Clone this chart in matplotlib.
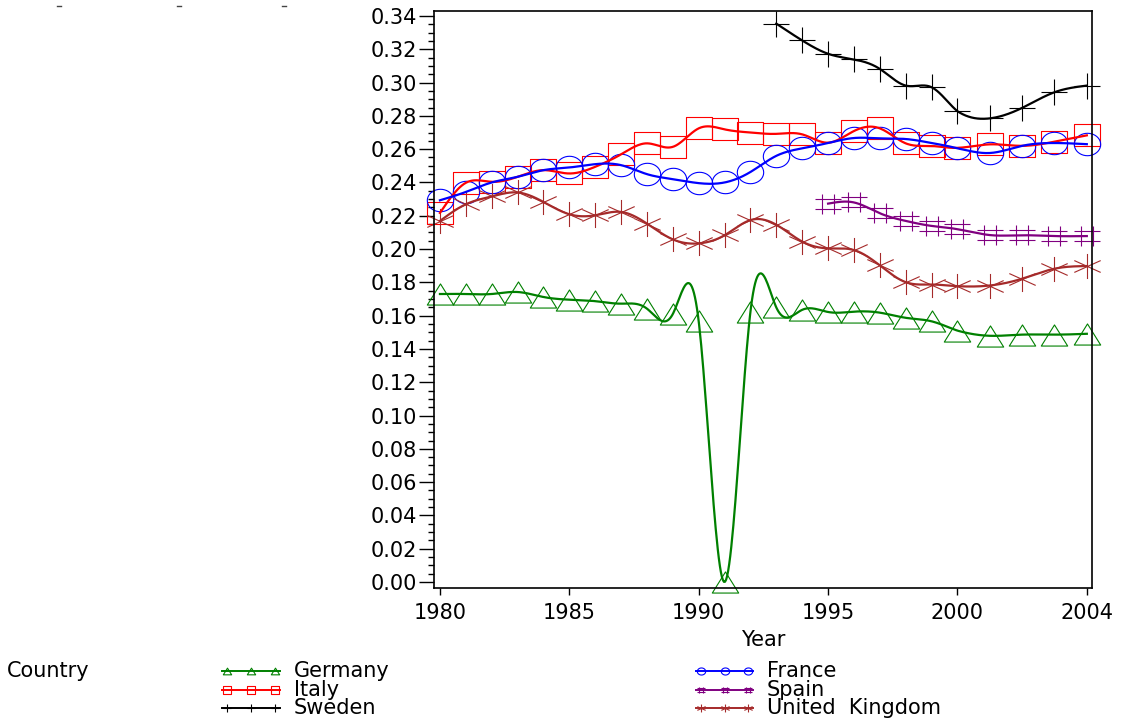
import matplotlib
matplotlib.use('Agg')
import matplotlib.pyplot as plt
from matplotlib.path import Path
from matplotlib.lines import Line2D
from matplotlib.ticker import FixedLocator, MultipleLocator
import numpy as np

plt.rcParams['font.family'] = ['DejaVu Sans']

# values
years_all = list(range(1980, 2005))
germany = [0.173, 0.173, 0.173, 0.1742, 0.1712, 0.1696, 0.1687, 0.1672, 0.1642,
           0.161, 0.1566, 0.000, 0.1624, 0.1649, 0.1635, 0.1622, 0.1624, 0.1618,
           0.1587, 0.1566, 0.151, 0.1479, 0.1486, 0.1486, 0.1491]
france = [0.2293, 0.2343, 0.240, 0.2434, 0.2474, 0.249, 0.251, 0.2504, 0.245,
          0.242, 0.2396, 0.240, 0.2463, 0.256, 0.2605, 0.2637, 0.2667, 0.2665,
          0.2661, 0.2637, 0.2605, 0.2577, 0.262, 0.2637, 0.263]
italy = [0.2217, 0.2398, 0.2404, 0.2434, 0.2474, 0.2454, 0.2494, 0.2569, 0.2635,
         0.2614, 0.2725, 0.2719, 0.2700, 0.2692, 0.2689, 0.2639, 0.2709, 0.2725,
         0.2635, 0.2619, 0.2608, 0.2629, 0.262, 0.2645, 0.2683]
uk = [0.2169, 0.2269, 0.2316, 0.234, 0.2283, 0.2209, 0.2203, 0.2223, 0.2153,
      0.2058, 0.2034, 0.2083, 0.2174, 0.2146, 0.2045, 0.2004, 0.1994, 0.1902,
      0.1801, 0.1787, 0.1777, 0.1781, 0.1822, 0.1882, 0.1898]
years_sweden = list(range(1993, 2005))
sweden = [0.3354, 0.3253, 0.3173, 0.3139, 0.3082, 0.2982, 0.2972, 0.2828,
          0.2785, 0.2848, 0.2942, 0.2982]
years_spain = list(range(1995, 2005))
spain = [0.2273, 0.228, 0.2215, 0.2169, 0.2139, 0.2119, 0.2084, 0.2083,
         0.2078, 0.2078]

x_ticks = [1980, 1985, 1990, 1995, 2000, 2004]
y_ticks = [round(0.02 * i, 2) for i in range(18)]


# SAS-style axis: major ticks evenly spaced even though 2000->2004 is 4 years
def fwd(x):
    x = np.asarray(x, float)
    return np.where(x <= 2000, (x - 1980) / 5.0, 4 + (x - 2000) / 4.0)


def inv(u):
    u = np.asarray(u, float)
    return np.where(u <= 4, 1980 + 5.0 * u, 2000 + 4.0 * (u - 4))


def spline(x, y, n=600):
    # natural cubic spline through the points (interpol=spline look)
    x = np.asarray(x, float)
    y = np.asarray(y, float)
    k = len(x)
    h = np.diff(x)
    A = np.zeros((k, k))
    b = np.zeros(k)
    A[0, 0] = A[-1, -1] = 1
    for i in range(1, k - 1):
        A[i, i - 1] = h[i - 1]
        A[i, i] = 2 * (h[i - 1] + h[i])
        A[i, i + 1] = h[i]
        b[i] = 3 * ((y[i + 1] - y[i]) / h[i] - (y[i] - y[i - 1]) / h[i - 1])
    c = np.linalg.solve(A, b)
    bb = (y[1:] - y[:-1]) / h - h * (2 * c[:-1] + c[1:]) / 3
    d = (c[1:] - c[:-1]) / (3 * h)
    xs = np.linspace(x[0], x[-1], n)
    idx = np.clip(np.searchsorted(x, xs, side='right') - 1, 0, k - 2)
    dx = xs - x[idx]
    ys = y[idx] + bb[idx] * dx + c[idx] * dx ** 2 + d[idx] * dx ** 3
    return xs, ys


def seg_path(segs):
    verts, codes = [], []
    for (a, b2) in segs:
        verts += [a, b2]
        codes += [Path.MOVETO, Path.LINETO]
    return Path(verts, codes)


t = np.linspace(0, 2 * np.pi, 41)
m_circle = Path(np.column_stack([np.cos(t), 0.85 * np.sin(t)]), closed=True)
m_square = Path([(-1, -0.85), (1, -0.85), (1, 0.85), (-1, 0.85), (-1, -0.85)], closed=True)
m_tri = Path([(-1, -0.8), (1, -0.8), (0, 0.8), (-1, -0.8)], closed=True)
m_plus = seg_path([((-1, 0), (1, 0)), ((0, -0.95), (0, 0.95))])
m_hash = seg_path([((-1, 0.38), (1, 0.38)), ((-1, -0.38), (1, -0.38)),
                   ((-0.45, -0.77), (-0.45, 0.77)), ((0.45, -0.77), (0.45, 0.77))])
m_star = seg_path([((0, -0.95), (0, 0.95)), ((-1, -0.45), (1, 0.45)),
                   ((-1, 0.45), (1, -0.45))])

series = [
    ('Germany', years_all, germany, '#008000', m_tri),
    ('Italy', years_all, italy, '#ff0000', m_square),
    ('Sweden', years_sweden, sweden, '#000000', m_plus),
    ('France', years_all, france, '#0000ff', m_circle),
    ('Spain', years_spain, spain, '#800080', m_hash),
    ('United  Kingdom', years_all, uk, '#a52a2a', m_star),
]

W, H = 1143, 719
fig = plt.figure(figsize=(W / 100, H / 100), dpi=100)
fig.patch.set_facecolor('white')
ax = fig.add_axes([434 / W, 1 - 588 / H, (1092 - 434) / W, (588 - 11) / H])
ax.set_xscale('function', functions=(fwd, inv))

for name, xs, ys, col, mk in series:
    sx, sy = spline(xs, ys)
    ax.plot(sx, sy, color=col, lw=1.6, clip_on=False, zorder=3)
    ax.plot(xs, ys, ls='none', marker=mk, ms=19, mfc='none', mec=col,
            mew=0.8, clip_on=False, zorder=2)

ax.set_xlim(inv(-0.046), inv(5.04))
ax.set_ylim(-0.0036, 0.343)
ax.xaxis.set_major_locator(FixedLocator(x_ticks))
ax.xaxis.set_minor_locator(FixedLocator([]))
ax.set_xticklabels([str(v) for v in x_ticks])
ax.yaxis.set_major_locator(FixedLocator(y_ticks))
ax.yaxis.set_minor_locator(MultipleLocator(0.005))
ax.set_yticklabels([f'{v:.2f}' for v in y_ticks])
ax.tick_params(axis='y', which='major', length=11, width=1, pad=1, labelsize=15)
ax.tick_params(axis='y', which='minor', length=4, width=1)
ax.tick_params(axis='x', which='major', length=5, width=1, pad=6, labelsize=15)
for s in ax.spines.values():
    s.set_linewidth(1.2)
ax.set_xlabel('Year', fontsize=15, labelpad=5)

# legend built by hand, SAS-style at bottom
def fx(px):
    return px / W


def fy(py):
    return 1 - py / H


rows = [671, 690, 708]
fig.text(fx(7), fy(rows[0]), 'Country', fontsize=15, va='center', ha='left')
cols = [(222, 280, 294), (696, 753, 767)]
for i, (name, xs, ys, col, mk) in enumerate(series):
    x0, x1, xt = cols[i // 3]
    yy = fy(rows[i % 3])
    fig.add_artist(Line2D([fx(x0), fx(x1)], [yy, yy], color=col, lw=1.4))
    mx = [fx(x0 + 5), fx((x0 + x1) / 2), fx(x1 - 5)]
    fig.add_artist(Line2D(mx, [yy] * 3, ls='none', marker=mk, ms=6,
                          mfc='none', mec=col, mew=0.8))
    fig.text(fx(xt), yy, name, fontsize=15, va='center', ha='left')

# small dash remnants along the top edge
for px in (59, 179, 284):
    fig.add_artist(Line2D([fx(px - 2), fx(px + 2)], [fy(6), fy(6)], color='#444444', lw=1))

fig.savefig('out.png', dpi=100, facecolor='white')
